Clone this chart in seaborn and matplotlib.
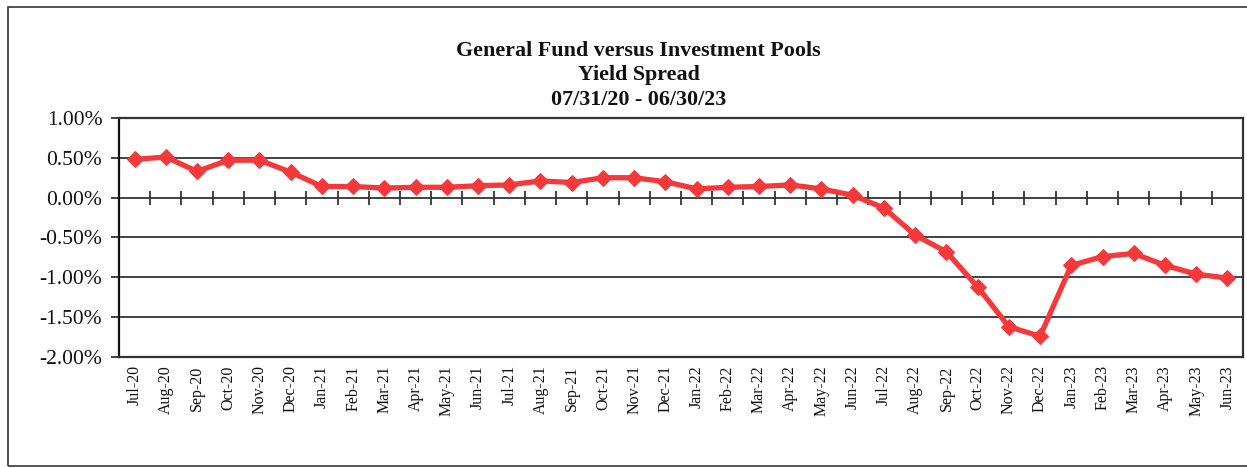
import numpy as np
import pandas as pd
import matplotlib
matplotlib.use("Agg")
import matplotlib.pyplot as plt
from matplotlib.patches import Rectangle
from matplotlib.ticker import PercentFormatter, FixedLocator
import seaborn as sns

# month labels and yield spread (in percent)
months = ["Jul-20", "Aug-20", "Sep-20", "Oct-20", "Nov-20", "Dec-20",
          "Jan-21", "Feb-21", "Mar-21", "Apr-21", "May-21", "Jun-21",
          "Jul-21", "Aug-21", "Sep-21", "Oct-21", "Nov-21", "Dec-21",
          "Jan-22", "Feb-22", "Mar-22", "Apr-22", "May-22", "Jun-22",
          "Jul-22", "Aug-22", "Sep-22", "Oct-22", "Nov-22", "Dec-22",
          "Jan-23", "Feb-23", "Mar-23", "Apr-23", "May-23", "Jun-23"]
spread = [0.48, 0.51, 0.33, 0.47, 0.47, 0.32,
          0.14, 0.14, 0.12, 0.13, 0.13, 0.15,
          0.16, 0.21, 0.19, 0.25, 0.25, 0.20,
          0.11, 0.13, 0.14, 0.16, 0.11, 0.03,
          -0.13, -0.47, -0.68, -1.12, -1.62, -1.74,
          -0.85, -0.74, -0.70, -0.85, -0.96, -1.01]
y_ticks = [1.0, 0.5, 0.0, -0.5, -1.0, -1.5, -2.0]

title_lines = "General Fund versus Investment Pools\nYield Spread\n07/31/20 - 06/30/23"

df = pd.DataFrame({"idx": np.arange(len(months)), "month": months, "spread": spread})

sns.set_theme(style="white")
plt.rcParams['font.family'] = ['Liberation Serif', 'DejaVu Serif']
plt.rcParams['axes.unicode_minus'] = False

fig = plt.figure(figsize=(12.47, 4.68), dpi=100)
ax = fig.add_axes([0.0954, 0.2372, 0.9014, 0.5107])

sns.lineplot(data=df, x="idx", y="spread", ax=ax, color="#f5383a",
             linewidth=3.8, marker="D", markersize=8.5,
             markeredgecolor="#f5383a", markerfacecolor="#f5383a")

ax.set_xlim(-0.5, len(months) - 0.5)
ax.set_ylim(min(y_ticks), max(y_ticks))
ax.set_yticks(y_ticks)
ax.yaxis.set_major_formatter(PercentFormatter(xmax=100, decimals=2))
ax.tick_params(axis="y", direction="out", length=6, width=1.2, color="#222222",
               labelsize=15.5, pad=6, left=True)
for t in ax.get_yticklabels():
    t.set_color("#111111")

ax.set_xticks(df["idx"])
ax.set_xticklabels(months, rotation=90, fontsize=11.5, color="#111111")
ax.tick_params(axis="x", length=0, pad=6)
ax.set_xlabel("")
ax.set_ylabel("")

# horizontal gridlines
ax.yaxis.grid(True, color="#333333", linewidth=1.3)
ax.set_axisbelow(True)
for s in ax.spines.values():
    s.set_color("#333333")
    s.set_linewidth(1.6)
ax.spines["left"].set_color("#111111")

# category axis crossing at zero with ticks between months
zero_pos = (0 - min(y_ticks)) / (max(y_ticks) - min(y_ticks))
sec = ax.secondary_xaxis(zero_pos)
sec.xaxis.set_major_locator(FixedLocator(np.arange(0.5, len(months) - 1, 1.0)))
sec.tick_params(axis="x", direction="inout", length=10, width=1.1, color="#111111",
                labelbottom=False, labeltop=False)
sec.spines["bottom"].set_visible(False)
sec.spines["top"].set_visible(False)

fig.text(0.512, 0.913, title_lines, ha="center", va="top", fontsize=15.8,
         fontweight="bold", linespacing=1.3, color="#111111")

# outer chart border
fig.patches.append(Rectangle((0.0064, 0.004), 1.1, 0.981, transform=fig.transFigure,
                             fill=False, edgecolor="#444444", linewidth=1.3))

fig.savefig("out.png", dpi=100)
